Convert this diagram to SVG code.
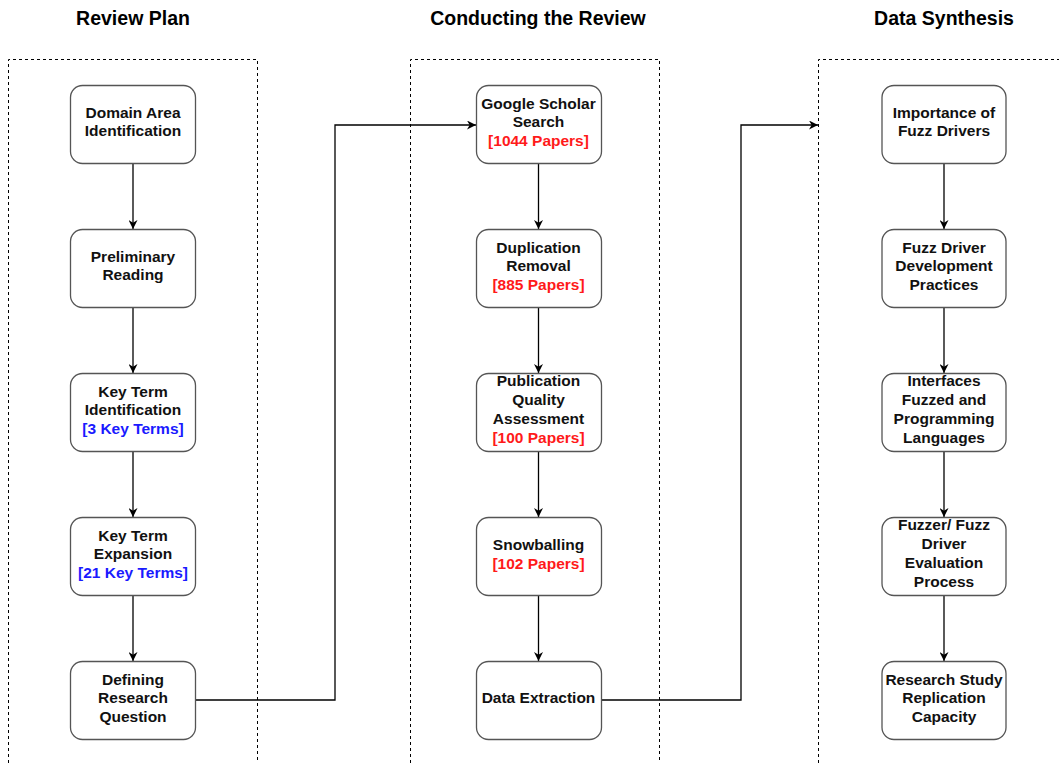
<svg xmlns="http://www.w3.org/2000/svg" width="1059" height="763" viewBox="0 0 1059 763">
  <style>
    .hdr { font-family: "Liberation Sans", Arial, sans-serif; font-weight: bold; font-size: 19.5px; fill: #000; text-anchor: middle; }
    .lbl { font-family: "Liberation Sans", Arial, sans-serif; font-weight: bold; font-size: 15.5px; fill: #111; text-anchor: middle; }
    .red { fill: #ff1a1a; }
    .blue { fill: #1a1aff; }
    .box { fill: #fff; stroke: #555; stroke-width: 1.3; }
    .lane { fill: none; stroke: #000; stroke-width: 1; stroke-dasharray: 3 3; }
    .edge { fill: none; stroke: #000; stroke-width: 1.3; }
  </style>
  <defs>
    <marker id="arrow" viewBox="0 0 10 10" refX="10" refY="5" markerWidth="9" markerHeight="9" markerUnits="userSpaceOnUse" orient="auto">
      <path d="M0,0 L10,5 L0,10 L3,5 Z" fill="#000"/>
    </marker>
  </defs>
  <rect width="1059" height="763" fill="#fff"/>

  <!-- phase lanes -->
  <g id="lanes">
    <path class="lane" d="M8.5,763 V59.5 H257.5 V763"/>
    <path class="lane" d="M410.5,763 V59.5 H659.5 V763"/>
    <path class="lane" d="M818.5,763 V59.5 H1059"/>
    <text class="hdr" x="133" y="25">Review Plan</text>
    <text class="hdr" x="538" y="25">Conducting the Review</text>
    <text class="hdr" x="944" y="25">Data Synthesis</text>
  </g>

  <!-- connectors -->
  <g id="connectors">
    <path class="edge" d="M133,163 V229" marker-end="url(#arrow)"/>
    <path class="edge" d="M133,307 V373" marker-end="url(#arrow)"/>
    <path class="edge" d="M133,451 V517" marker-end="url(#arrow)"/>
    <path class="edge" d="M133,595 V661" marker-end="url(#arrow)"/>
    <path class="edge" d="M195,700 H335 V125 H476" marker-end="url(#arrow)"/>
    <path class="edge" d="M538.5,163 V229" marker-end="url(#arrow)"/>
    <path class="edge" d="M538.5,307 V373" marker-end="url(#arrow)"/>
    <path class="edge" d="M538.5,451 V517" marker-end="url(#arrow)"/>
    <path class="edge" d="M538.5,595 V661" marker-end="url(#arrow)"/>
    <path class="edge" d="M601,700 H741 V125 H818" marker-end="url(#arrow)"/>
    <path class="edge" d="M944,163 V229" marker-end="url(#arrow)"/>
    <path class="edge" d="M944,307 V373" marker-end="url(#arrow)"/>
    <path class="edge" d="M944,451 V517" marker-end="url(#arrow)"/>
    <path class="edge" d="M944,595 V661" marker-end="url(#arrow)"/>
  </g>

  <!-- Review Plan -->
  <g id="domain-area">
    <rect class="box" x="70.5" y="85.5" width="125" height="78" rx="12"/>
    <text class="lbl" x="133" y="117.5">Domain Area</text>
    <text class="lbl" x="133" y="135.5">Identification</text>
  </g>
  <g id="preliminary-reading">
    <rect class="box" x="70.5" y="229.5" width="125" height="78" rx="12"/>
    <text class="lbl" x="133" y="261.5">Preliminary</text>
    <text class="lbl" x="133" y="279.5">Reading</text>
  </g>
  <g id="key-term-identification">
    <rect class="box" x="70.5" y="373.5" width="125" height="78" rx="12"/>
    <text class="lbl" x="133" y="396.5">Key Term</text>
    <text class="lbl" x="133" y="414.5">Identification</text>
    <text class="lbl blue" x="133" y="433.5">[3 Key Terms]</text>
  </g>
  <g id="key-term-expansion">
    <rect class="box" x="70.5" y="517.5" width="125" height="78" rx="12"/>
    <text class="lbl" x="133" y="540.5">Key Term</text>
    <text class="lbl" x="133" y="558.5">Expansion</text>
    <text class="lbl blue" x="133" y="577.5">[21 Key Terms]</text>
  </g>
  <g id="research-question">
    <rect class="box" x="70.5" y="661.5" width="125" height="78" rx="12"/>
    <text class="lbl" x="133" y="684.5">Defining</text>
    <text class="lbl" x="133" y="702.5">Research</text>
    <text class="lbl" x="133" y="721.5">Question</text>
  </g>

  <!-- Conducting the Review -->
  <g id="google-scholar">
    <rect class="box" x="476.5" y="85.5" width="125" height="78" rx="12"/>
    <text class="lbl" x="538.5" y="108.5">Google Scholar</text>
    <text class="lbl" x="538.5" y="126.5">Search</text>
    <text class="lbl red" x="538.5" y="145.5">[1044 Papers]</text>
  </g>
  <g id="duplication-removal">
    <rect class="box" x="476.5" y="229.5" width="125" height="78" rx="12"/>
    <text class="lbl" x="538.5" y="252.5">Duplication</text>
    <text class="lbl" x="538.5" y="270.5">Removal</text>
    <text class="lbl red" x="538.5" y="289.5">[885 Papers]</text>
  </g>
  <g id="quality-assessment">
    <rect class="box" x="476.5" y="373.5" width="125" height="78" rx="12"/>
    <text class="lbl" x="538.5" y="385.5">Publication</text>
    <text class="lbl" x="538.5" y="404.5">Quality</text>
    <text class="lbl" x="538.5" y="423.5">Assessment</text>
    <text class="lbl red" x="538.5" y="442.5">[100 Papers]</text>
  </g>
  <g id="snowballing">
    <rect class="box" x="476.5" y="517.5" width="125" height="78" rx="12"/>
    <text class="lbl" x="538.5" y="549.5">Snowballing</text>
    <text class="lbl red" x="538.5" y="568.5">[102 Papers]</text>
  </g>
  <g id="data-extraction">
    <rect class="box" x="476.5" y="661.5" width="125" height="78" rx="12"/>
    <text class="lbl" x="538.5" y="702.5">Data Extraction</text>
  </g>

  <!-- Data Synthesis -->
  <g id="importance">
    <rect class="box" x="882" y="85.5" width="124" height="78" rx="12"/>
    <text class="lbl" x="944" y="117.5">Importance of</text>
    <text class="lbl" x="944" y="135.5">Fuzz Drivers</text>
  </g>
  <g id="development-practices">
    <rect class="box" x="882" y="229.5" width="124" height="78" rx="12"/>
    <text class="lbl" x="944" y="252.5">Fuzz Driver</text>
    <text class="lbl" x="944" y="270.5">Development</text>
    <text class="lbl" x="944" y="289.5">Practices</text>
  </g>
  <g id="interfaces-languages">
    <rect class="box" x="882" y="373.5" width="124" height="78" rx="12"/>
    <text class="lbl" x="944" y="385.5">Interfaces</text>
    <text class="lbl" x="944" y="404.5">Fuzzed and</text>
    <text class="lbl" x="944" y="423.5">Programming</text>
    <text class="lbl" x="944" y="442.5">Languages</text>
  </g>
  <g id="evaluation-process">
    <rect class="box" x="882" y="517.5" width="124" height="78" rx="12"/>
    <text class="lbl" x="944" y="529.5">Fuzzer/ Fuzz</text>
    <text class="lbl" x="944" y="548.5">Driver</text>
    <text class="lbl" x="944" y="567.5">Evaluation</text>
    <text class="lbl" x="944" y="586.5">Process</text>
  </g>
  <g id="replication-capacity">
    <rect class="box" x="882" y="661.5" width="124" height="78" rx="12"/>
    <text class="lbl" x="944" y="684.5">Research Study</text>
    <text class="lbl" x="944" y="702.5">Replication</text>
    <text class="lbl" x="944" y="721.5">Capacity</text>
  </g>
</svg>
